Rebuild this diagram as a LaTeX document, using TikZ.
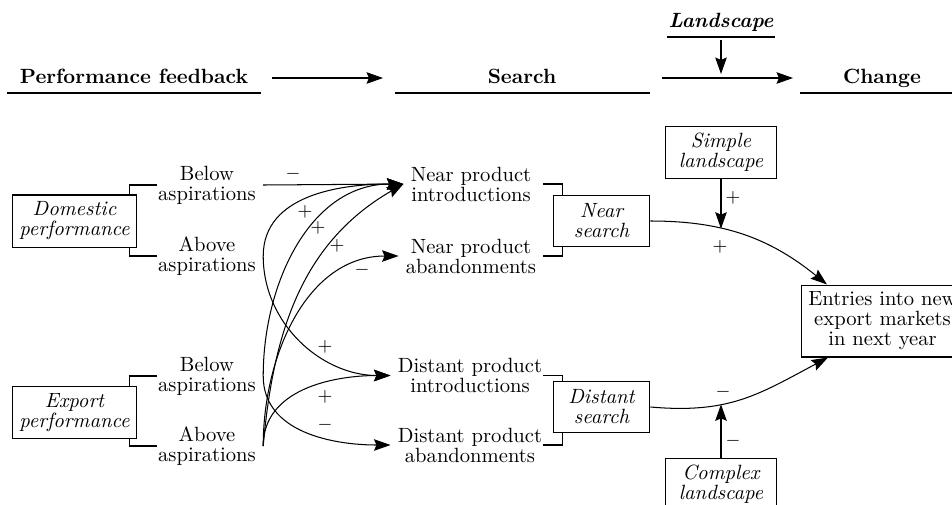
\documentclass[tikz,border=0pt]{standalone}
\usetikzlibrary{arrows.meta,calc}
\begin{document}
\begin{tikzpicture}[x=0.485pt,y=0.485pt,
  every node/.style={font=\fontsize{10}{9.7}\selectfont, align=center, inner sep=3.33pt},
  box/.style={draw, line width=0.5pt, font=\fontsize{10}{9.7}\selectfont\itshape},
  arr/.style={-{Stealth[length=8pt,width=5.6pt,inset=1.2pt]}, line width=0.5pt},
  lab/.style={font=\small, inner sep=0pt},
  head/.style={font=\bfseries, anchor=base},
  line width=0.5pt]
\useasboundingbox (0,0) rectangle (952,-504);
\clip (0,0) rectangle (952,-504);

% ---------- header ----------
\node[head] (PF) at (134,-83) {Performance feedback};
\node[head] (SE) at (522,-83) {Search};
\node[head] (CH) at (882,-83) {Change};
\node[font=\bfseries\itshape, anchor=base] (LS) at (721,-27) {Landscape};
\coordinate (u1a) at (7,-93);   \coordinate (u1b) at (261,-93);
\coordinate (u2a) at (395,-93); \coordinate (u2b) at (650,-93);
\coordinate (u3a) at (800,-93); \coordinate (u3b) at (970,-93);
\coordinate (u4a) at (667,-37); \coordinate (u4b) at (775,-37);
\draw (u1a) -- (u1b);
\draw (u2a) -- (u2b);
\draw (u3a) -- (u3b);
\draw (u4a) -- (u4b);
\coordinate (h1a) at (272,-78); \coordinate (h1b) at (383,-78);
\coordinate (h2a) at (662,-78); \coordinate (h2b) at (793,-78);
\coordinate (h3a) at (721,-40); \coordinate (h3b) at (721,-74);
\draw[arr] (h1a) -- (h1b);
\draw[arr] (h2a) -- (h2b);
\draw[arr] (h3a) -- (h3b);

% ---------- left column ----------
\node[box, minimum width=60.6pt, minimum height=25.2pt] (DOM) at (74.5,-221) {Domestic\\performance};
\node[box, minimum width=60.6pt, minimum height=25.2pt] (EXP) at (74.5,-412.5) {Export\\performance};
\node (DB) at (207,-185) {Below\\aspirations};
\node (DA) at (207,-256) {Above\\aspirations};
\node (EB) at (207,-376) {Below\\aspirations};
\node (EA) at (207,-446) {Above\\aspirations};

\coordinate (dR) at ($(DOM.east)+(20,0)$);
\draw ($(DOM.north east)+(-8,0)$) |- (dR |- DB.center);
\draw ($(DOM.south east)+(-8,0)$) |- (dR |- DA.center);
\coordinate (eR) at ($(EXP.east)+(20,0)$);
\draw ($(EXP.north east)+(-8,0)$) |- (eR |- EB.center);
\draw ($(EXP.south east)+(-8,0)$) |- (eR |- EA.center);

% ---------- search column ----------
\node (NPI) at (471,-184) {Near product\\introductions};
\node (NPA) at (471,-256) {Near product\\abandonments};
\node (DPI) at (470,-375.5) {Distant product\\introductions};
\node (DPA) at (470,-445) {Distant product\\abandonments};
\node[box, minimum width=47pt, minimum height=24.3pt] (NS) at (601.5,-221) {Near\\search};
\node[box, minimum width=47pt, minimum height=24.3pt] (DS) at (601.5,-407) {Distant\\search};

\coordinate (nL) at ($(NS.west)+(-10,0)$);
\draw ($(NS.north west)+(10,0)$) |- (nL |- NPI.center);
\draw ($(NS.south west)+(10,0)$) |- (nL |- NPA.center);
\coordinate (sL) at ($(DS.west)+(-10,0)$);
\draw ($(DS.north west)+(10,0)$) |- (sL |- DPI.center);
\draw ($(DS.south west)+(10,0)$) |- (sL |- DPA.center);

% ---------- feedback connectors ----------
\draw[arr] (DB.east) -- (NPI.west);
\draw[arr] (DA.east) to[out=90,in=180] (NPI.west);
\draw[arr] (DA.east) to[out=-90,in=180] (DPI.west);
\draw[arr] (EB.east) to[out=90,in=180] (NPI.west);
\draw[arr] (EB.east) to[out=-90,in=180] (DPA.west);
\draw[arr] (EA.east) to[out=85,in=210] (NPI.west);
\draw[arr] (EA.east) to[out=90,in=180] (NPA.west);
\draw[arr] (EA.east) to[out=90,in=180] (DPI.west);

\node[lab] (s1) at (293,-174) {$-$};
\node[lab] (s2) at (305,-212) {$+$};
\node[lab] (s3) at (318,-228) {$+$};
\node[lab] (s4) at (337,-246) {$+$};
\node[lab] (s5) at (362,-270) {$-$};
\node[lab] (s6) at (325,-347) {$+$};
\node[lab] (s7) at (325,-397) {$+$};
\node[lab] (s8) at (325,-425) {$-$};

% ---------- change column ----------
\node[box, minimum width=53.4pt, minimum height=24.7pt] (SL) at (721,-152.5) {Simple\\landscape};
\node[box, minimum width=53.4pt, minimum height=24.7pt] (CL) at (721,-484.5) {Complex\\landscape};
\node[draw, line width=0.5pt] (ENT) at (882.5,-321) {Entries into new\\export markets\\in next year};

\draw[arr] (NS.east) to[out=0,in=141] coordinate[pos=0.37] (m1) ($(ENT.north west)+(26,0)$);
\draw[arr] (DS.east) to[out=-5,in=208,looseness=1.1] coordinate[pos=0.37] (m2) ($(ENT.south west)+(27,0)$);
\draw[arr] (SL.south) -- (SL.south |- m1);
\draw[arr] (CL.north) -- (CL.north |- m2);

\node[lab] (t1) at (733,-198) {$+$};
\node[lab] (t2) at (720,-247) {$+$};
\node[lab] (t3) at (723,-392) {$-$};
\node[lab] (t4) at (733,-441) {$-$};
\end{tikzpicture}
\end{document}
